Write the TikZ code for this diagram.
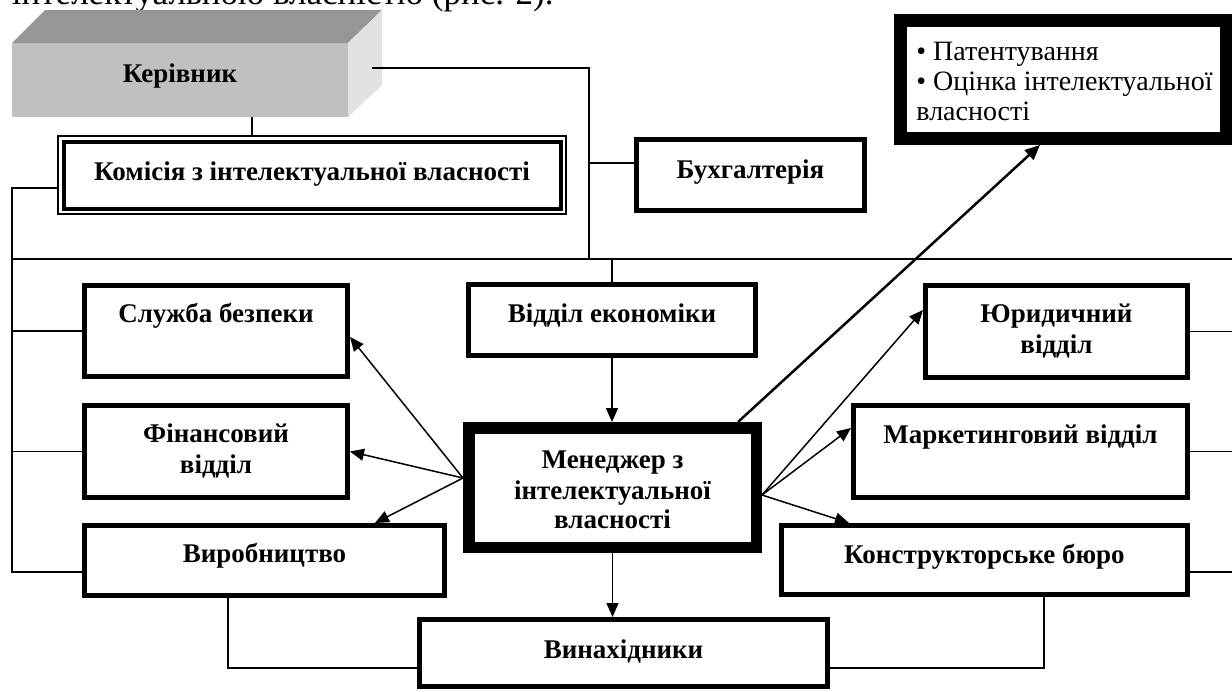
\documentclass[tikz,border=0pt]{standalone}
\usepackage{fontspec}
\setmainfont{Liberation Serif}
\usetikzlibrary{arrows.meta}
\definecolor{frontg}{HTML}{C0C0C0}
\definecolor{topg}{HTML}{969696}
\definecolor{sideg}{HTML}{E2E2E2}
\begin{document}
\begin{tikzpicture}[x=0.5pt,y=-0.5pt,
  box/.style={draw, line width=2.5pt, fill=white, inner sep=0pt},
  lbl/.style={font=\bfseries\fontsize{13.5}{16}\selectfont, inner sep=0pt, anchor=base},
  plain/.style={font=\fontsize{14}{16}\selectfont, inner sep=0pt, anchor=base west},
  conn/.style={line width=0.75pt},
  arr/.style={line width=0.75pt, -{Triangle[length=7pt,width=6pt]}},
  bigarr/.style={line width=1.25pt, -{Triangle[length=7.5pt,width=6.5pt]}},
]
\useasboundingbox (0,0) rectangle (1232,691);
\clip (0,0) rectangle (1232,691);
\fill[white] (0,0) rectangle (1232,691);

% partial line of body text at the top
\node[font=\fontsize{17.5}{20}\selectfont, inner sep=0pt, anchor=base east] (toptext) at (554,4) {інтелектуальною власністю (рис. 2).};

% Kerivnyk (3D block)
\node[fill=frontg, minimum width=168pt, minimum height=37pt, inner sep=0pt, outer sep=0pt] (ker) at (180,80) {};
\fill[topg] (ker.north west) -- ++(33,-33) -- ++(337,0) -- (ker.north east) -- cycle;
\fill[sideg] (ker.north east) -- ++(34,-33) -- ++(0,75) -- (ker.south east) -- cycle;
\node[lbl] (kert) at (180,82) {Керівник};

% Komisiia (double border)
\node[draw, line width=0.9pt, fill=white, minimum width=254.1pt, minimum height=39.1pt, inner sep=0pt] (kom) at (312,175) {};
\draw[line width=2pt] ([shift={(6.5,6.5)}]kom.north west) rectangle ([shift={(-6.5,-6.5)}]kom.south east);
\node[lbl] (komt) at (312,180) {Комісія з інтелектуальної власності};

% Bukhhalteriia
\node[box, minimum width=114pt, minimum height=35.5pt] (buh) at (750.5,175) {};
\node[lbl] (buht) at (750.5,178) {Бухгалтерія};

% top right box
\node[box, line width=6.5pt, minimum width=163pt, minimum height=59pt] (tr) at (1063.5,79.5) {};
\node[plain] (tr1) at (916,60) {• Патентування};
\node[plain] (tr2) at (916,90) {• Оцінка інтелектуальної};
\node[plain] (tr3) at (916,120) {власності};

% left column
\node[box, minimum width=131.5pt, minimum height=45.5pt] (sl) at (216,331) {};
\node[lbl] (slt) at (216,322) {Служба безпеки};
\node[box, minimum width=131.5pt, minimum height=46pt] (fin) at (216,451.5) {};
\node[lbl] (fint1) at (216,442) {Фінансовий};
\node[lbl] (fint2) at (216,473) {відділ};
\node[box, minimum width=180pt, minimum height=35pt] (vyr) at (264.5,560.5) {};
\node[lbl] (vyrt) at (264.5,562) {Виробництво};

% centre column
\node[box, minimum width=143.5pt, minimum height=35.5pt] (ek) at (612,320) {};
\node[lbl] (ekt) at (612,322) {Відділ економіки};
\node[box, line width=5.75pt, minimum width=143.75pt, minimum height=59.75pt] (men) at (612.5,487.5) {};
\node[lbl] (ment1) at (612.5,468) {Менеджер з};
\node[lbl] (ment2) at (612.5,499) {інтелектуальної};
\node[lbl] (ment3) at (612.5,528) {власності};
\node[box, minimum width=204pt, minimum height=33.5pt] (vyn) at (623.5,653) {};
\node[lbl] (vynt) at (623.5,658) {Винахідники};

% right column
\node[box, minimum width=131pt, minimum height=46pt] (yur) at (1056.5,331.5) {};
\node[lbl] (yurt1) at (1056.5,322) {Юридичний};
\node[lbl] (yurt2) at (1056.5,353) {відділ};
\node[box, minimum width=167pt, minimum height=46pt] (mark) at (1020.5,451.5) {};
\node[lbl] (markt) at (1020.5,443) {Маркетинговий відділ};
\node[box, minimum width=203pt, minimum height=34.5pt] (kon) at (984.5,560) {};
\node[lbl] (kont) at (984.5,563) {Конструкторське бюро};

% junction coordinates
\coordinate (kr) at (372,68);
\coordinate (j1) at (589,68);
\coordinate (j2) at (589,259);
\coordinate (jb) at (589,163);
\coordinate (busL) at (12,259);
\coordinate (busR) at (1232,259);
\coordinate (L1) at (12,188);
\coordinate (L2) at (12,572);
\coordinate (Ls) at (12,331);
\coordinate (Lf) at (12,451.5);
\coordinate (Rv) at (1232,572);
\coordinate (b1) at (228,668);
\coordinate (b2) at (1044,668);
\coordinate (mL) at (463,478);
\coordinate (mR) at (762,495);

% connectors
\draw[conn] (ker.south -| 252,0) -- (kom.north -| 252,0);
\draw[conn] (kr) -- (j1) -- (j2);
\draw[conn] (jb) -- (buh.west |- jb);
\draw[conn] (busL) -- (busR);
\draw[conn] (ek.north |- busL) -- (ek.north);
\draw[conn] (kom.west |- L1) -- (L1) -- (L2) -- (vyr.west |- L2);
\draw[conn] (Ls) -- (sl.west);
\draw[conn] (Lf) -- (fin.west);
\draw[conn] (yur.east) -- (yur.east -| busR);
\draw[conn] (mark.east) -- (mark.east -| busR);
\draw[conn] (kon.east |- Rv) -- (Rv);
\draw[conn] (vyr.south -| b1) -- (b1) -- (vyn.west |- b1);
\draw[conn] (kon.south -| b2) -- (b2) -- (vyn.east |- b2);

% arrows
\draw[arr] (mL) -- (sl.east |- 0,337);
\draw[arr] (mL) -- (fin.east);
\draw[arr] (mL) -- (vyr.north -| 375,0);
\draw[arr] (mR) -- (yur.west |- 0,310);
\draw[arr] (mR) -- (mark.west |- 0,428);
\draw[arr] (mR) -- (kon.north -| 849,0);
\draw[arr] (ek.south) -- (men.north -| ek.south);
\draw[arr] (men.south) -- (vyn.north -| men.south);
\draw[bigarr] (men.north -| 738,0) -- (tr.south -| 1040,0);
\end{tikzpicture}
\end{document}
